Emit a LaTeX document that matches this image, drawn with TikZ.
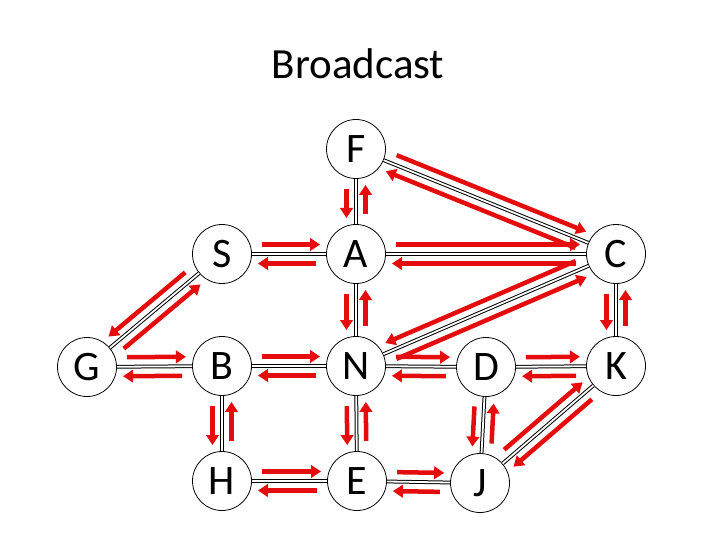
\documentclass[tikz,border=0pt]{standalone}
\usepackage{fontspec}
\setmainfont{Carlito}
\usetikzlibrary{calc,arrows.meta}
\definecolor{arrred}{RGB}{228,12,12}
\tikzset{
  vert/.style={circle,draw=black,line width=0.8pt,fill=white,minimum size=59pt,inner sep=0pt,font=\fontsize{42}{42}\selectfont},
  edge/.style={draw=black,line width=1pt,double=white,double distance=1.8pt},
  redarr/.style={draw=arrred,line width=4.5pt,-{Triangle[length=10pt,width=12.5pt]}},
  titletext/.style={font=\fontsize{43}{43}\selectfont,anchor=base}
}
\newcommand\biarr[3]{%
  \draw[redarr] ($(#1)!40pt!(#2)!9.5pt!#3:(#2)$) -- ($(#2)!36pt!(#1)!-9.5pt!#3:(#1)$);
  \draw[redarr] ($(#2)!40pt!(#1)!9.5pt!#3:(#1)$) -- ($(#1)!36pt!(#2)!-9.5pt!#3:(#2)$);
}
\begin{document}
\begin{tikzpicture}[x=1pt,y=-1pt]
\useasboundingbox (0,0) rectangle (720,540);
\node[titletext] (title) at (358,79) {Broadcast};
\node[vert] (F) at (356,149) {F};
\node[vert] (S) at (222,254) {S};
\node[vert] (A) at (356,254) {A};
\node[vert] (C) at (616,254) {C};
\node[vert] (G) at (87,367) {G};
\node[vert] (B) at (222,366) {B};
\node[vert] (N) at (356,366) {N};
\node[vert] (D) at (486,367) {D};
\node[vert] (K) at (616,366) {K};
\node[vert] (H) at (222,481) {H};
\node[vert] (E) at (357,481) {E};
\node[vert] (J) at (480,483) {J};
\foreach \a/\b in {F/A,F/C,S/A,A/C,A/N,C/N,C/K,G/S,G/B,B/N,B/H,N/D,N/E,D/K,D/J,K/J,H/E,E/J}
  \draw[edge] (\a) -- (\b);
\biarr{F}{A}{-90}
\biarr{F}{C}{90}
\biarr{S}{A}{90}
\biarr{A}{C}{90}
\biarr{A}{N}{-90}
\biarr{C}{N}{-90}
\biarr{C}{K}{-90}
\biarr{G}{S}{-90}
\biarr{G}{B}{90}
\biarr{B}{N}{90}
\biarr{B}{H}{-90}
\biarr{N}{D}{90}
\biarr{N}{E}{-90}
\biarr{D}{K}{90}
\biarr{D}{J}{-90}
\biarr{K}{J}{90}
\biarr{H}{E}{90}
\biarr{E}{J}{90}
\end{tikzpicture}
\end{document}
